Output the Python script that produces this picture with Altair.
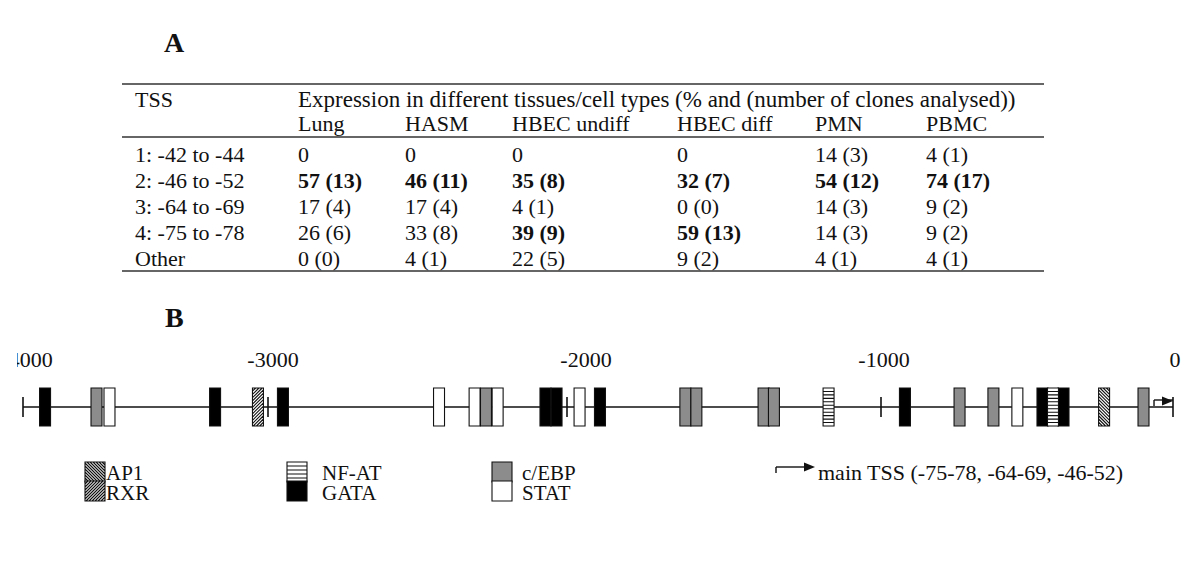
import altair as alt
import pandas as pd

# ---------------- Panel A: table data ----------------
cell_types = ["Lung", "HASM", "HBEC undiff", "HBEC diff", "PMN", "PBMC"]
tss_sites = ["1: -42 to -44", "2: -46 to -52", "3: -64 to -69", "4: -75 to -78", "Other"]

lung_pct = [0, 57, 17, 26, 0]
lung_clones = [None, 13, 4, 6, 0]
hasm_pct = [0, 46, 17, 33, 4]
hasm_clones = [None, 11, 4, 8, 1]
hbec_undiff_pct = [0, 35, 4, 39, 22]
hbec_undiff_clones = [None, 8, 1, 9, 5]
hbec_diff_pct = [0, 32, 0, 59, 9]
hbec_diff_clones = [None, 7, 0, 13, 2]
pmn_pct = [14, 54, 14, 14, 4]
pmn_clones = [3, 12, 3, 3, 1]
pbmc_pct = [4, 74, 9, 9, 4]
pbmc_clones = [1, 17, 2, 2, 1]

bold_cells = [("2: -46 to -52", ct) for ct in cell_types] + [
    ("4: -75 to -78", "HBEC undiff"),
    ("4: -75 to -78", "HBEC diff"),
]
header_first = "TSS"
header_span = "Expression in different tissues/cell types (% and (number of clones analysed))"

# ---------------- Panel B: promoter map ----------------
axis_ticks_bp = [-4000, -3000, -2000, -1000, 0]
site_types = ["GATA", "c/EBP", "STAT", "GATA", "RXR", "GATA",
              "STAT", "STAT", "c/EBP", "STAT", "GATA", "GATA", "STAT", "GATA",
              "c/EBP", "c/EBP", "c/EBP", "c/EBP", "NF-AT",
              "GATA", "c/EBP", "c/EBP", "STAT", "GATA", "GATA", "NF-AT", "AP1", "c/EBP"]
site_pos_bp = [-3910, -3700, -3647, -3216, -3041, -2950,
               -2428, -2309, -2271, -2232, -2072, -2035, -1960, -1895,
               -1623, -1588, -1374, -1341, -1167,
               -918, -731, -615, -533, -447, -375, -411, -236, -101]
main_tss_bp = -65
legend_order = ["AP1", "RXR", "NF-AT", "GATA", "c/EBP", "STAT"]
tss_legend_text = "main TSS (-75-78, -64-69, -46-52)"

# ---------------- layout / style ----------------
FONT = "Liberation Serif"
INK = "#111111"
PX0, PY0 = 17, 8


def cx(px):
    return px - PX0


def cy(py):
    return py - PY0


def box_path(w, h, kind, step):
    parts = [f"M{-w:.3f},{-h:.3f}L{w:.3f},{-h:.3f}L{w:.3f},{h:.3f}L{-w:.3f},{h:.3f}Z"]
    if kind == "h":
        y = -h + step
        while y < h - 1e-6:
            parts.append(f"M{-w:.3f},{y:.3f}L{w:.3f},{y:.3f}")
            y += step
    elif kind in ("\\", "/"):
        s = 1 if kind == "\\" else -1
        c = -h - w + step
        while c < h + w - 1e-6:
            if s == 1:
                x0, x1 = max(-w, -h - c), min(w, h - c)
            else:
                x0, x1 = max(-w, c - h), min(w, c + h)
            if x1 - x0 > 1e-3:
                parts.append(f"M{x0:.3f},{s * x0 + c:.3f}L{x1:.3f},{s * x1 + c:.3f}")
            c += step
    return "".join(parts)


type_fill = {"AP1": "white", "RXR": "white", "NF-AT": "white",
             "GATA": "black", "c/EBP": "#8c8c8c", "STAT": "white"}
type_hatch = {"AP1": "\\", "RXR": "/", "NF-AT": "h", "GATA": None, "c/EBP": None, "STAT": None}

BOX_H = 38.0
BOX_W = 11.0
bw = (BOX_W / 2) / (BOX_H / 2)
diag_paths = [box_path(bw, 1.0, type_hatch[t],
                       {"h": 2 / 11, "\\": 0.17, "/": 0.17}.get(type_hatch[t], 1))
              for t in legend_order]
leg_paths = [box_path(1.0, 1.0, type_hatch[t],
                      {"h": 0.4, "\\": 0.3, "/": 0.3}.get(type_hatch[t], 1))
             for t in legend_order]
fills = [type_fill[t] for t in legend_order]
arrow_head = "M-2,-0.8L0,0L-2,0.8Z"

# ---------------- build table ----------------
pct_cols = [lung_pct, hasm_pct, hbec_undiff_pct, hbec_diff_pct, pmn_pct, pbmc_pct]
clone_cols = [lung_clones, hasm_clones, hbec_undiff_clones, hbec_diff_clones, pmn_clones, pbmc_clones]
recs = [{"col": 0, "row": 0, "label": header_first, "bold": False, "wide": False},
        {"col": 1, "row": 0, "label": header_span, "bold": False, "wide": True}]
for j, ct in enumerate(cell_types):
    recs.append({"col": j + 1, "row": 1, "label": ct, "bold": False, "wide": False})
for i, site in enumerate(tss_sites):
    recs.append({"col": 0, "row": i + 2, "label": site, "bold": False, "wide": False})
    for j, ct in enumerate(cell_types):
        p, n = pct_cols[j][i], clone_cols[j][i]
        lab = f"{p}" if n is None else f"{p} ({n})"
        recs.append({"col": j + 1, "row": i + 2, "label": lab,
                     "bold": (site, ct) in bold_cells, "wide": False})
table_df = pd.DataFrame(recs)

tab_x = alt.Scale(domain=list(range(7)),
                  range=[cx(v) for v in [135, 298, 405, 512, 677, 815, 926]], nice=False, zero=False)
tab_y = alt.Scale(domain=list(range(7)),
                  range=[cy(v) for v in [107, 131, 162, 188, 214, 240, 266]], nice=False, zero=False)

tbase = alt.Chart(table_df).encode(
    x=alt.X("col:Q", scale=tab_x, axis=None),
    y=alt.Y("row:Q", scale=tab_y, axis=None),
    text="label:N",
)
t_norm = tbase.transform_filter("!datum.bold && !datum.wide").mark_text(
    align="left", baseline="alphabetic", font=FONT, fontSize=22, color=INK)
t_wide = tbase.transform_filter("datum.wide").mark_text(
    align="left", baseline="alphabetic", font=FONT, fontSize=23, color=INK)
t_bold = tbase.transform_filter("datum.bold").mark_text(
    align="left", baseline="alphabetic", font=FONT, fontSize=22, fontWeight="bold", color=INK)

one = pd.DataFrame({"k": [0]})
t_rules = [alt.Chart(one).mark_rule(color="#333", strokeWidth=1.6).encode(
    x=alt.value(cx(122)), x2=alt.value(cx(1044)), y=alt.value(cy(yy))) for yy in (84, 137, 271)]

panel_a = alt.Chart(one).mark_text(text="A", align="left", baseline="alphabetic", font=FONT,
                                   fontSize=28, fontWeight="bold", color=INK).encode(
    x=alt.value(cx(164)), y=alt.value(cy(52)))
panel_b = alt.Chart(one).mark_text(text="B", align="left", baseline="alphabetic", font=FONT,
                                   fontSize=28, fontWeight="bold", color=INK).encode(
    x=alt.value(cx(165)), y=alt.value(cy(327)))

# ---------------- promoter map ----------------
bp_scale = alt.Scale(domain=axis_ticks_bp, range=[cx(v) for v in [23, 268, 567, 881, 1173]],
                     nice=False, zero=False)
# the printed labels sit slightly off their tick marks in the original drawing
label_scale = alt.Scale(domain=axis_ticks_bp, range=[cx(v) for v in [27, 273, 586, 884, 1175]],
                        nice=False, zero=False)
ticks_df = pd.DataFrame({"bp": axis_ticks_bp, "lab": [str(v) for v in axis_ticks_bp]})
span_df = pd.DataFrame({"start": [min(axis_ticks_bp)], "end": [max(axis_ticks_bp)]})
sites_df = pd.DataFrame({"bp": site_pos_bp, "type": site_types})
tss_df = pd.DataFrame({"bp": [main_tss_bp], "end": [max(axis_ticks_bp)]})

LINE_Y = cy(407)
main_line = alt.Chart(span_df).mark_rule(color=INK, strokeWidth=1.4).encode(
    x=alt.X("start:Q", scale=bp_scale, axis=None), x2="end:Q", y=alt.value(LINE_Y))
tick_rules = alt.Chart(ticks_df).mark_rule(color=INK, strokeWidth=1.6).encode(
    x=alt.X("bp:Q", scale=bp_scale, axis=None), y=alt.value(LINE_Y - 10), y2=alt.value(LINE_Y + 10))
tick_labels = alt.Chart(ticks_df).mark_text(
    align="center", baseline="alphabetic", font=FONT, fontSize=22, color=INK, clip=True).encode(
    x=alt.X("bp:Q", scale=label_scale, axis=None), y=alt.value(cy(367)), text="lab:N")
boxes = alt.Chart(sites_df).mark_point(
    filled=True, stroke=INK, strokeWidth=1.1, opacity=1, size=BOX_H ** 2).encode(
    x=alt.X("bp:Q", scale=bp_scale, axis=None), y=alt.value(LINE_Y),
    shape=alt.Shape("type:N", scale=alt.Scale(domain=legend_order, range=diag_paths), legend=None),
    fill=alt.Fill("type:N", scale=alt.Scale(domain=legend_order, range=fills), legend=None))
tss_up = alt.Chart(tss_df).mark_rule(color=INK, strokeWidth=1.4).encode(
    x=alt.X("bp:Q", scale=bp_scale, axis=None), y=alt.value(LINE_Y - 7), y2=alt.value(LINE_Y - 1))
tss_run = alt.Chart(tss_df).mark_rule(color=INK, strokeWidth=1.4).encode(
    x=alt.X("bp:Q", scale=bp_scale, axis=None), x2="end:Q", y=alt.value(LINE_Y - 7))
tss_head = alt.Chart(tss_df).mark_point(
    filled=True, color=INK, opacity=1, size=121, shape=arrow_head).encode(
    x=alt.X("end:Q", scale=bp_scale, axis=None), y=alt.value(LINE_Y - 6))

# ---------------- legend ----------------
leg_df = pd.DataFrame({"type": legend_order,
                       "lcol": [i // 2 for i in range(len(legend_order))],
                       "lrow": [i % 2 for i in range(len(legend_order))]})
leg_box_x = alt.Scale(domain=[0, 1, 2], range=[cx(v) for v in [95, 297, 502]], nice=False, zero=False)
leg_txt_x = alt.Scale(domain=[0, 1, 2], range=[cx(v) for v in [106, 322, 522]], nice=False, zero=False)
leg_box_y = alt.Scale(domain=[0, 1], range=[cy(472), cy(491)], nice=False, zero=False)
leg_txt_y = alt.Scale(domain=[0, 1], range=[cy(480), cy(500)], nice=False, zero=False)

leg_boxes = alt.Chart(leg_df).mark_point(
    filled=True, stroke=INK, strokeWidth=1.1, opacity=1, size=400).encode(
    x=alt.X("lcol:Q", scale=leg_box_x, axis=None),
    y=alt.Y("lrow:Q", scale=leg_box_y, axis=None),
    shape=alt.Shape("type:N", scale=alt.Scale(domain=legend_order, range=leg_paths), legend=None),
    fill=alt.Fill("type:N", scale=alt.Scale(domain=legend_order, range=fills), legend=None))
leg_text = alt.Chart(leg_df).mark_text(
    align="left", baseline="alphabetic", font=FONT, fontSize=21, color=INK).encode(
    x=alt.X("lcol:Q", scale=leg_txt_x, axis=None),
    y=alt.Y("lrow:Q", scale=leg_txt_y, axis=None),
    text="type:N")

tss_leg_df = pd.DataFrame({"label": [tss_legend_text]})
leg_arrow_v = alt.Chart(tss_leg_df).mark_rule(color=INK, strokeWidth=1.4).encode(
    x=alt.value(cx(776)), y=alt.value(cy(467)), y2=alt.value(cy(473)))
leg_arrow_h = alt.Chart(tss_leg_df).mark_rule(color=INK, strokeWidth=1.4).encode(
    x=alt.value(cx(776)), x2=alt.value(cx(806)), y=alt.value(cy(467)))
leg_arrow_head = alt.Chart(tss_leg_df).mark_point(
    filled=True, color=INK, opacity=1, size=121, shape=arrow_head).encode(
    x=alt.value(cx(815)), y=alt.value(cy(467)))
leg_tss_text = alt.Chart(tss_leg_df).mark_text(
    align="left", baseline="alphabetic", font=FONT, fontSize=22, color=INK).encode(
    x=alt.value(cx(818)), y=alt.value(cy(480)), text="label:N")

chart = alt.layer(
    *t_rules, t_norm, t_wide, t_bold, panel_a, panel_b,
    main_line, tick_rules, tick_labels, boxes, tss_up, tss_run, tss_head,
    leg_boxes, leg_text, leg_arrow_v, leg_arrow_h, leg_arrow_head, leg_tss_text,
).resolve_scale(
    x="independent", y="independent", shape="independent", fill="independent"
).properties(
    width=1175, height=560,
    autosize=alt.AutoSizeParams(type="none"),
    padding={"left": 9, "top": 0, "right": 0, "bottom": 0},
    background="white",
).configure_view(stroke=None)

chart.save("out.html", embed_options={"renderer": "svg", "actions": False})
